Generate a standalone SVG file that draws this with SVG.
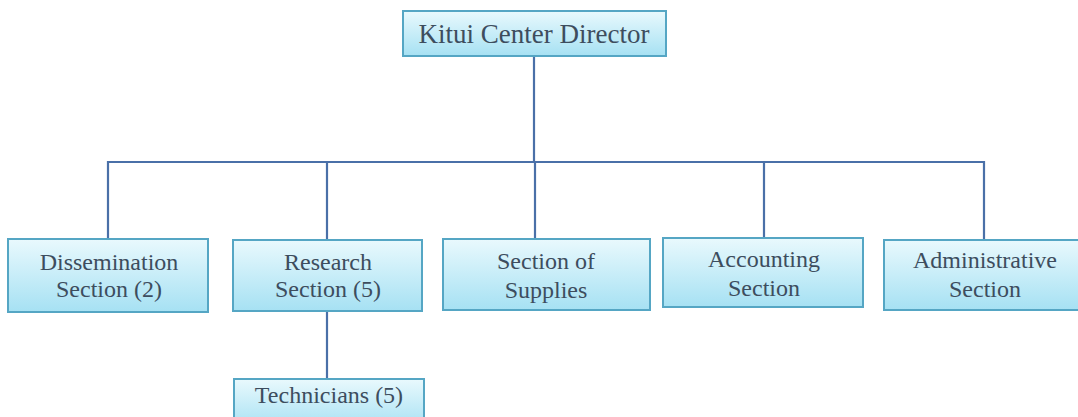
<svg xmlns="http://www.w3.org/2000/svg" width="1078" height="417" viewBox="0 0 1078 417">
  <defs>
    <linearGradient id="boxFill" x1="0" y1="0" x2="0" y2="1">
      <stop offset="0" stop-color="#e9f9fd"/>
      <stop offset="1" stop-color="#a6e1f3"/>
    </linearGradient>
    <style>
      .box { fill: url(#boxFill); stroke: #55a6c4; stroke-width: 2; }
      .label { font-family: "Liberation Serif", "Times New Roman", serif; font-size: 24px; fill: #3d4d5e; text-anchor: middle; }
      .title { font-size: 27px; }
      .link { fill: none; stroke: #4a70a8; stroke-width: 2.2; }
    </style>
  </defs>
  <rect width="1078" height="417" fill="#ffffff"/>

  <!-- reporting lines -->
  <g id="connectors">
    <path class="link" d="M534 56 V162"/>
    <path class="link" d="M108 239 V162 H984 V239"/>
    <path class="link" d="M327 162 V239"/>
    <path class="link" d="M535 162 V239"/>
    <path class="link" d="M764 162 V238"/>
    <path class="link" d="M327 311 V379"/>
  </g>

  <g id="director">
    <rect class="box" x="403" y="11" width="263" height="45"/>
    <text class="label title" x="534" y="43">Kitui Center Director</text>
  </g>

  <g id="dissemination">
    <rect class="box" x="8" y="239" width="200" height="73"/>
    <text class="label" x="109" y="270">Dissemination</text>
    <text class="label" x="109" y="297">Section (2)</text>
  </g>

  <g id="research">
    <rect class="box" x="233" y="240" width="189" height="71"/>
    <text class="label" x="328" y="270">Research</text>
    <text class="label" x="328" y="297">Section (5)</text>
  </g>

  <g id="supplies">
    <rect class="box" x="443" y="239" width="207" height="71"/>
    <text class="label" x="546" y="269">Section of</text>
    <text class="label" x="546" y="298">Supplies</text>
  </g>

  <g id="accounting">
    <rect class="box" x="663" y="238" width="200" height="69"/>
    <text class="label" x="764" y="267">Accounting</text>
    <text class="label" x="764" y="296">Section</text>
  </g>

  <g id="administrative">
    <rect class="box" x="884" y="240" width="200" height="70"/>
    <text class="label" x="985" y="268">Administrative</text>
    <text class="label" x="985" y="297">Section</text>
  </g>

  <g id="technicians">
    <rect class="box" x="234" y="379" width="190" height="50"/>
    <text class="label" x="329" y="403">Technicians (5)</text>
  </g>
</svg>
